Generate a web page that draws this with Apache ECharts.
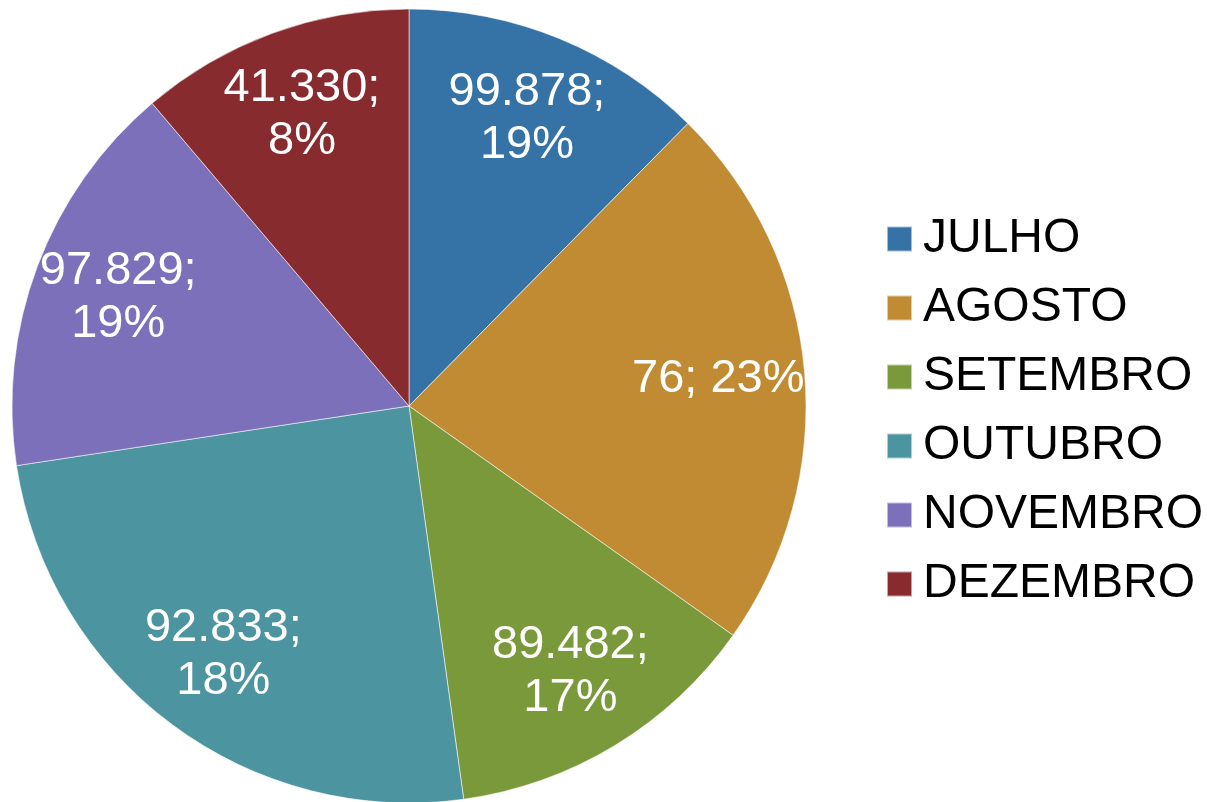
<!DOCTYPE html>
<html>
<head>
<meta charset="utf-8">
<script src="https://cdn.jsdelivr.net/npm/echarts@6/dist/echarts.min.js"></script>
<style>
  html, body { margin: 0; padding: 0; background: #ffffff; }
  #pie { width: 1207px; height: 802px; }
</style>
</head>
<body>
<div id="pie"></div>
<script>
// meses e fatias (fatias lidas pelo ângulo do desenho)
var meses = ['JULHO', 'AGOSTO', 'SETEMBRO', 'OUTUBRO', 'NOVEMBRO', 'DEZEMBRO'];
var fatias = [12.4, 22.4, 13.0, 24.8, 16.2, 11.2];
// textos dos rótulos como aparecem no gráfico
var valorTexto = ['99.878', '76', '89.482', '92.833', '97.829', '41.330'];
var pctTexto = ['19%', '23%', '17%', '18%', '19%', '8%'];
var cores = ['#3572A5', '#C08B32', '#7A993B', '#4B94A0', '#7B70B9', '#872B2F'];

var dados = meses.map(function (m, i) {
    return { name: m, value: fatias[i] };
});

var chart = echarts.init(document.getElementById('pie'));
var option = {
    backgroundColor: '#ffffff',
    color: cores,
    animation: false,
    legend: {
        orient: 'vertical',
        left: 881,
        top: 209,
        itemWidth: 25,
        itemHeight: 25,
        itemGap: 19,
        icon: 'rect',
        textStyle: {
            color: '#000000',
            fontFamily: 'Liberation Sans, Arial, sans-serif',
            fontSize: 48,
            lineHeight: 50,
            padding: [0, 0, 0, 6]
        },
        data: meses
    },
    series: [
        {
            // pizza principal
            name: 'meses',
            type: 'pie',
            center: [409, 406],
            radius: [0, 397],
            startAngle: 90,
            clockwise: true,
            label: { show: false },
            labelLine: { show: false },
            emphasis: { disabled: true },
            itemStyle: {
                borderColor: 'rgba(255,255,255,0.55)',
                borderWidth: 1
            },
            data: dados
        },
        {
            // só os rótulos, num anel transparente para afastá-los do centro
            name: 'rotulos',
            type: 'pie',
            center: [409, 406],
            radius: [218, 397],
            startAngle: 90,
            clockwise: true,
            silent: true,
            emphasis: { disabled: true },
            itemStyle: { color: 'rgba(0,0,0,0)', borderWidth: 0 },
            labelLine: { show: false },
            label: {
                show: true,
                position: 'inside',
                color: '#ffffff',
                fontFamily: 'Liberation Sans, Arial, sans-serif',
                fontSize: 47,
                lineHeight: 53,
                formatter: function (p) {
                    var v = valorTexto[p.dataIndex];
                    var sep = v.length < 4 ? ' ' : '\n';
                    return v + ';' + sep + pctTexto[p.dataIndex];
                }
            },
            data: dados
        }
    ]
};
chart.setOption(option);
</script>
</body>
</html>
